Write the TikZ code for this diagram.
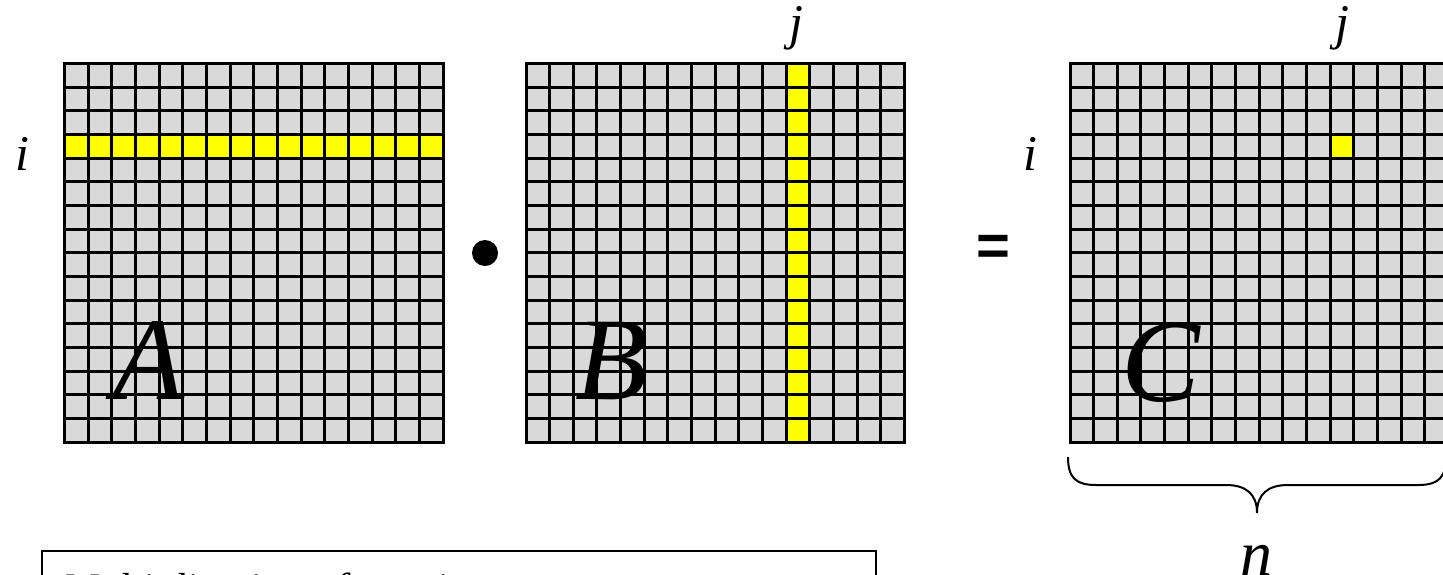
\documentclass[tikz,border=0pt]{standalone}
\usepackage{fontspec}
\setmainfont{Liberation Serif}
\newfontfamily\eqfont{Liberation Sans}
\definecolor{cellgray}{HTML}{D9D9D9}
\definecolor{hlyellow}{HTML}{FFFF00}
\begin{document}
\begin{tikzpicture}[x=1pt,y=-1pt,
  gridline/.style={line width=3pt, line cap=rect},
  gridbox/.style={fill=cellgray, inner sep=0pt, minimum width=378.5pt, minimum height=378.5pt, anchor=north west},
  hl/.style={fill=hlyellow},
  lbl/.style={inner sep=0pt, font=\fontsize{50}{50}\selectfont\itshape},
  biglbl/.style={inner sep=0pt, font=\fontsize{118}{118}\selectfont\itshape},
  bracestyle/.style={line width=2pt},
  boxstyle/.style={draw, line width=2pt}]
\useasboundingbox (0,0) rectangle (1443,574);
\clip (0,0) rectangle (1443,574);
\def\cs{23.656}
% grids
\node[gridbox] (gA) at (64.5,63.5) {};
\node[gridbox] (gB) at (526,63.5) {};
\node[gridbox] (gC) at (1070,63.5) {};
% highlighted cells
\fill[hl] (64.5,{63.5+3*\cs}) rectangle (443,{63.5+4*\cs});
\fill[hl] ({526+11*\cs},63.5) rectangle ({526+12*\cs},442);
\fill[hl] ({1070+11*\cs},{63.5+3*\cs}) rectangle ({1070+12*\cs},{63.5+4*\cs});
% grid lines
\foreach \gx in {64.5,526,1070}{
  \foreach \k in {0,...,16}{
    \draw[gridline] ({\gx+\k*\cs},63.5) -- ({\gx+\k*\cs},{63.5+16*\cs});
    \draw[gridline] (\gx,{63.5+\k*\cs}) -- ({\gx+16*\cs},{63.5+\k*\cs});
  }
}
% big letters
\node[biglbl] (lA) at (149,361) {A};
\node[biglbl] (lB) at (612,361) {B};
\node[biglbl] (lC) at (1161,363) {C};
% index labels
\node[lbl] (iA) at (22,154) {i};
\node[lbl] (iC) at (1030,154) {i};
\node[lbl] (jB) at (796,28) {j};
\node[lbl] (jC) at (1342,28) {j};
% operators
\node[circle, fill=black, minimum size=26pt, inner sep=0pt] (dot) at (485,253) {};
\node[inner sep=0pt, font=\fontsize{58}{58}\selectfont\bfseries\eqfont] (eq) at (993,250) {=};
% brace
\coordinate (bl) at (1068,457);
\coordinate (bt) at (1257,513);
\coordinate (br) at (1446,457);
\draw[bracestyle] (bl) .. controls (1068,478) and (1076,485) .. (1096,485) -- (1226,485)
  .. controls (1246,485) and (1257,494) .. (bt)
  .. controls (1257,494) and (1268,485) .. (1288,485) -- (1418,485)
  .. controls (1438,485) and (1446,478) .. (br);
\node[inner sep=0pt, font=\fontsize{64}{64}\selectfont\itshape] (n) at (1256,560) {n};
% bottom text box
\draw[boxstyle] (42,551) rectangle (876,620);
\node[anchor=base west, inner sep=0pt, font=\fontsize{42}{42}\selectfont\itshape] (txt) at (62,602) {Multiplication of matrices};
\end{tikzpicture}
\end{document}
